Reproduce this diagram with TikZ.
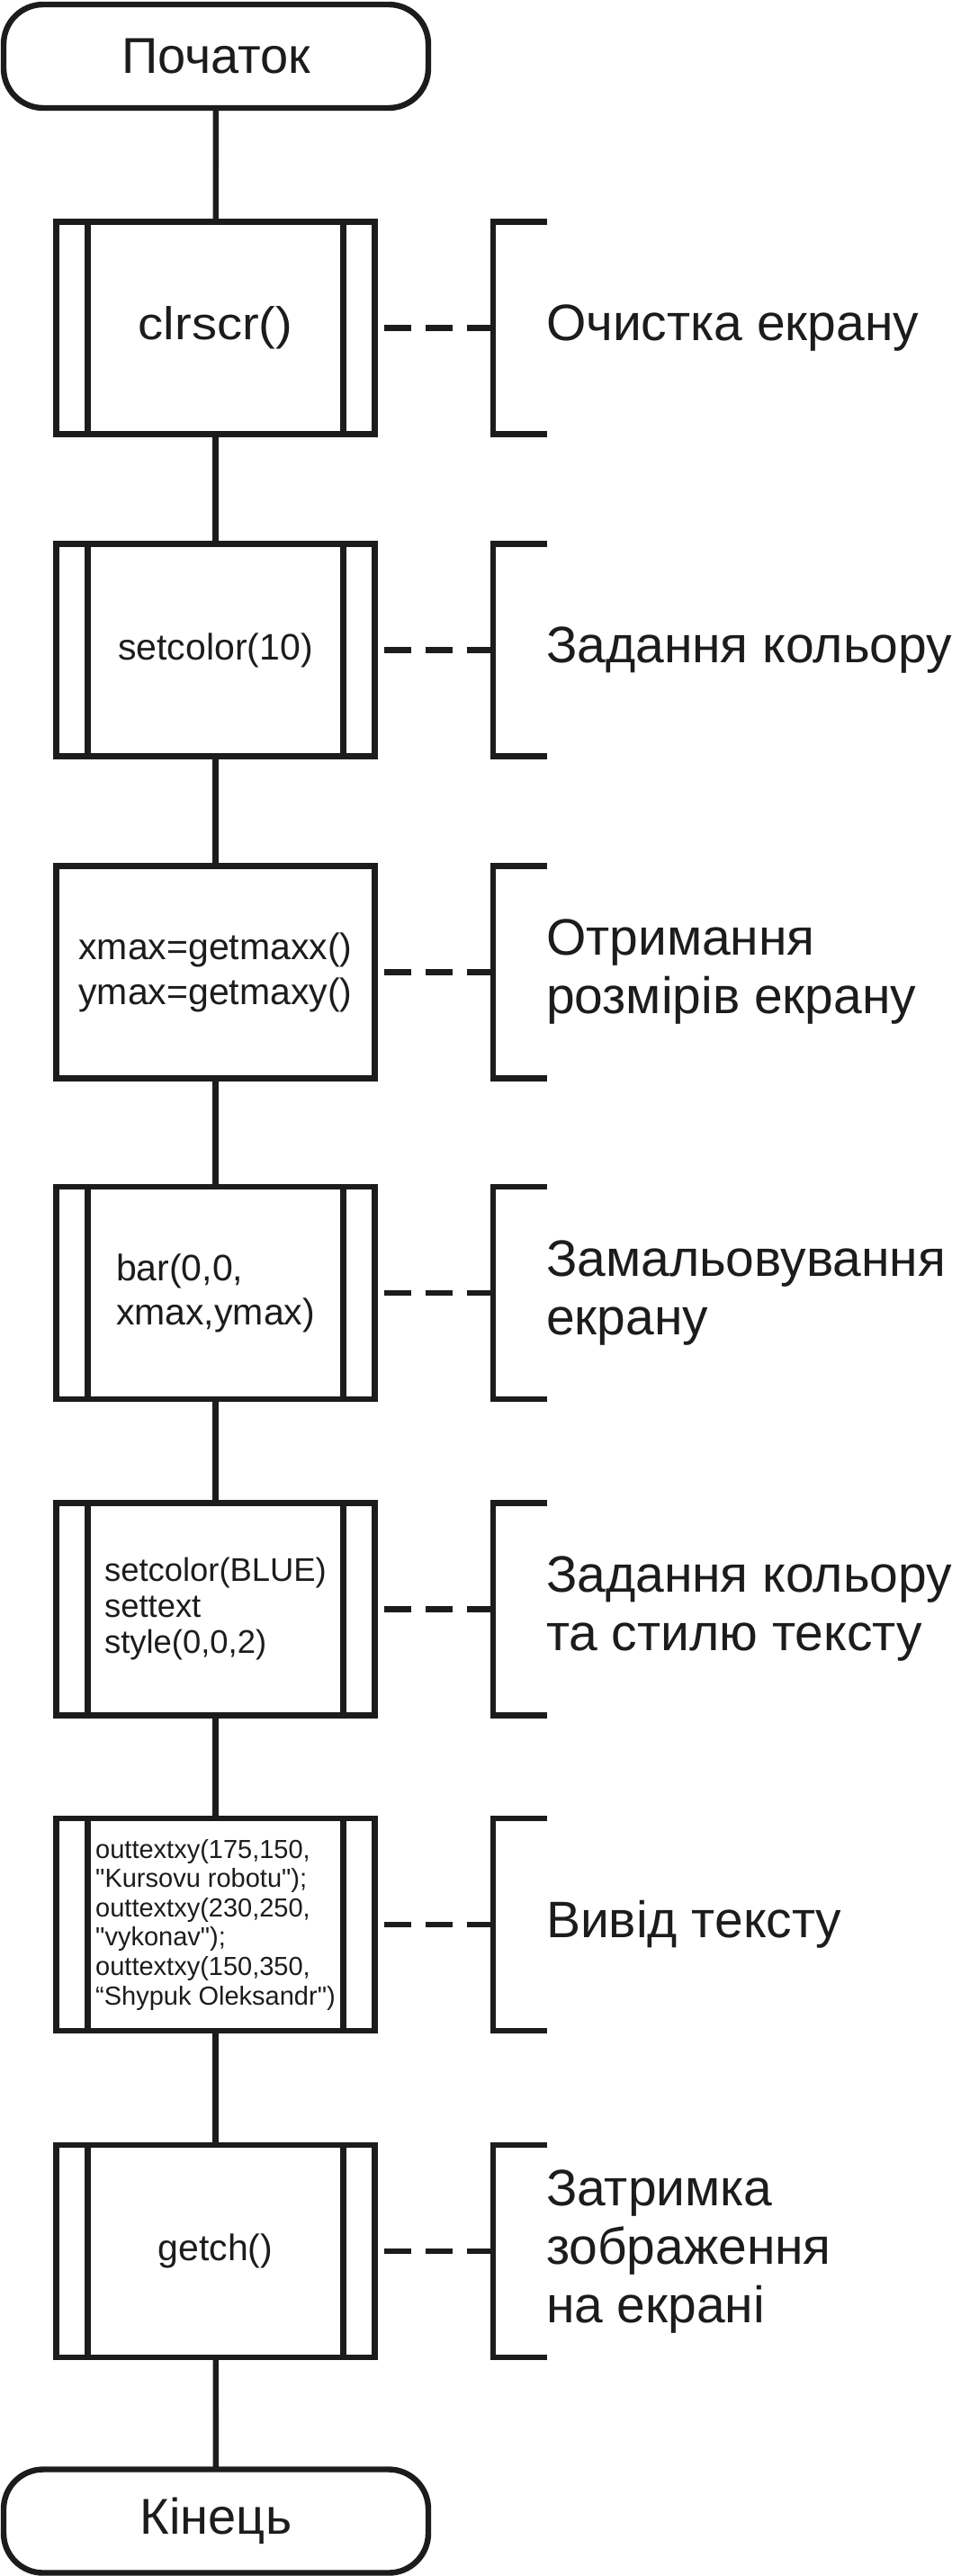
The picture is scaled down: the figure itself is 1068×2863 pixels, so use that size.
\documentclass[tikz,border=0pt]{standalone}
\usepackage{graphicx}
\usepackage{fontspec}
\setmainfont[Ligatures=TeXOff]{Liberation Sans}
\definecolor{ink}{HTML}{1C1C1C}
\begin{document}
\begin{tikzpicture}[x=0.5pt,y=-0.5pt, line width=3.2pt, draw=ink, text=ink,
  every node/.style={outer sep=0pt},
  term/.style={draw, rounded corners=22pt, minimum width=236pt, minimum height=57.5pt, inner sep=0pt,
    font=\fontsize{28}{32.5}\selectfont},
  procbox/.style={draw, minimum width=177pt, minimum height=118pt, inner sep=0pt},
  subproc/.style={procbox, path picture={
    \draw[line width=3.2pt]
      ([xshift=17.5pt]path picture bounding box.north west) -- ([xshift=17.5pt]path picture bounding box.south west)
      ([xshift=-17.5pt]path picture bounding box.north east) -- ([xshift=-17.5pt]path picture bounding box.south east);}},
  code/.style={font=\fontsize{20.5}{25}\selectfont},
  lbl/.style={anchor=west, inner sep=0pt, align=left, font=\fontsize{28.5}{32.5}\selectfont},
  dashlink/.style={dash pattern=on 15pt off 8pt, dash phase=18pt, line cap=butt}
]
\useasboundingbox (0,0) rectangle (1068,2863);
\fill[white] (0,0) rectangle (1068,2863);

\node[term] (start) at (240,62.5) {Початок};

\node[subproc] (b1) at (239.5,364.5) {\fontsize{25.5}{30}\selectfont\scalebox{1.1}[1]{clrscr()}};
\node[subproc, code] (b2) at (239.5,722.5) {setcolor(10)};
\node[procbox, code, align=center] (b3) at (239.5,1080.5) {xmax=getmaxx()\\ymax=getmaxy()};
\node[subproc, align=left, font=\fontsize{20.5}{24.5}\selectfont] (b4) at (239.5,1437) {bar(0,0,\\xmax,ymax)};
\node[subproc, align=left, font=\fontsize{18.2}{20}\selectfont] (b5) at (239.5,1788.5) {setcolor(BLUE)\\settext\\style(0,0,2)};
\node[subproc, align=left, font=\fontsize{14.5}{16.3}\selectfont] (b6) at (239.5,2139) {outtextxy(175,150,\\"Kursovu robotu");\\outtextxy(230,250,\\"vykonav");\\outtextxy(150,350,\\“Shypuk Oleksandr")};
\node[subproc, code] (b7) at (239.5,2502) {getch()};

\node[term] (end) at (240,2802) {Кінець};

\draw (start) -- (b1);
\draw (b1) -- (b2);
\draw (b2) -- (b3);
\draw (b3) -- (b4);
\draw (b4) -- (b5);
\draw (b5) -- (b6);
\draw (b6) -- (b7);
\draw (b7) -- (end);

\coordinate (kx) at (548,0);
\coordinate (bx) at (608,0);
\foreach \i in {1,...,7} {
  \coordinate (k\i) at (b\i.east -| kx);
  \draw (b\i.north -| bx) -- (b\i.north -| kx) -- (b\i.south -| kx) -- (b\i.south -| bx);
  \draw[dashlink] (b\i.east) -- (k\i);
}

\node[lbl] (l1) at (607,364.5) {Очистка екрану};
\node[lbl] (l2) at (607,722.5) {Задання кольору};
\node[lbl] (l3) at (607,1080.5) {Отримання\\розмірів екрану};
\node[lbl] (l4) at (607,1437) {Замальовування\\екрану};
\node[lbl] (l5) at (607,1788.5) {Задання кольору\\та стилю тексту};
\node[lbl] (l6) at (607,2139) {Вивід тексту};
\node[lbl] (l7) at (607,2502) {Затримка\\зображення\\на екрані};
\end{tikzpicture}
\end{document}
